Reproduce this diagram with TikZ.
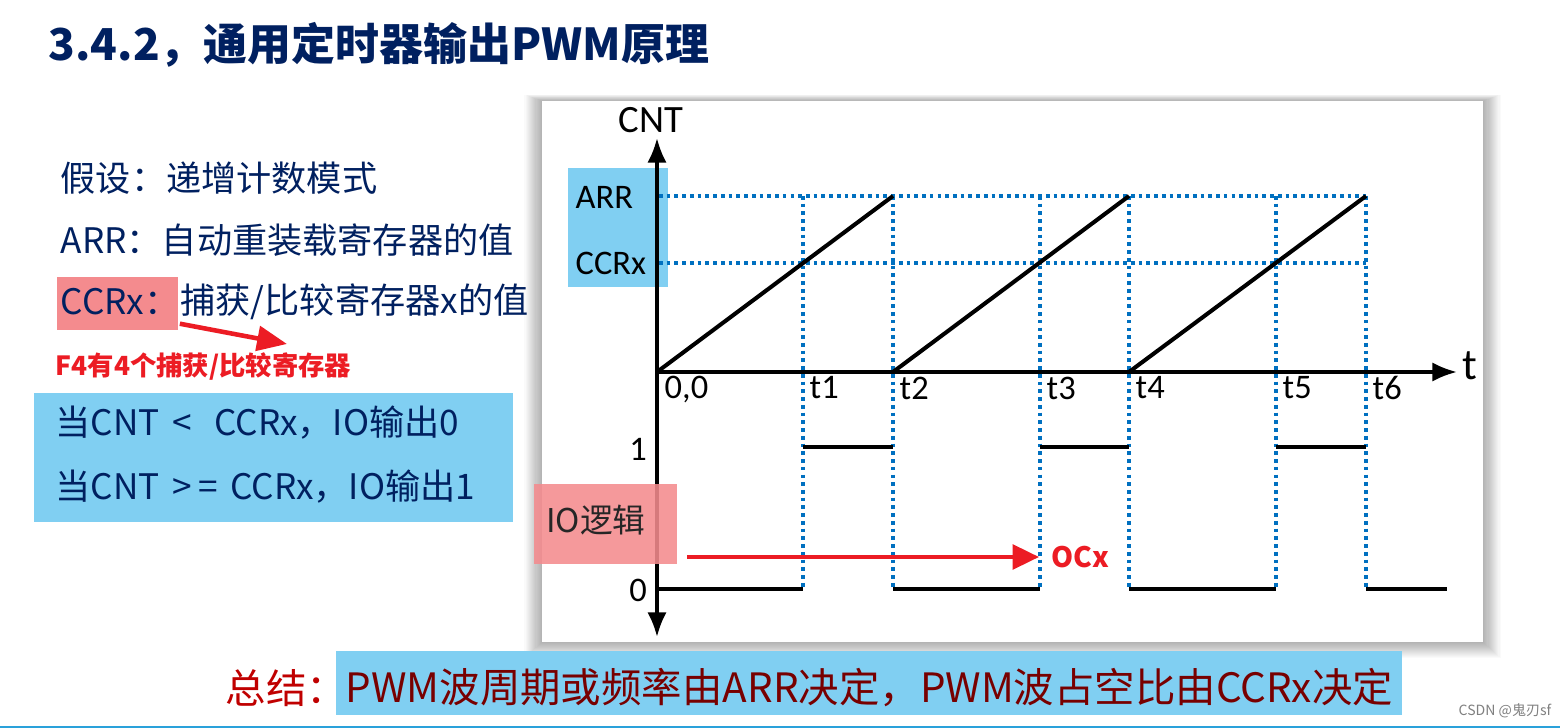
\documentclass[tikz,border=0pt]{standalone}
\usepackage{fontspec}
\setmainfont{Noto Sans CJK SC}
\newfontfamily\chartfont{Carlito}
\usetikzlibrary{arrows.meta,positioning,calc}
\definecolor{navy}{HTML}{002060}
\definecolor{skyblue}{HTML}{80CFF2}
\definecolor{rosepink}{HTML}{F48B8E}
\definecolor{alertred}{HTML}{EC1C24}
\definecolor{dotblue}{HTML}{0070C0}
\definecolor{darkred}{HTML}{C00000}
\definecolor{maroon}{HTML}{780000}
\definecolor{edgeblue}{HTML}{2AA1DA}
\tikzset{
 txt/.style={anchor=west,inner sep=0pt,text=navy,font=\fontsize{10}{12}\selectfont},
 lab/.style={inner sep=0pt,font=\chartfont\fontsize{9.8}{11}\selectfont},
 guide/.style={dotblue,line width=1.05pt,dash pattern=on 1.05pt off 1.15pt},
 wave/.style={line width=1.15pt},
 axis/.style={line width=1pt},
 redarrow/.style={alertred,line width=1.1pt,-{Triangle[length=7pt,width=6.5pt]}}
}
\begin{document}
\begin{tikzpicture}[x=0.01cm,y=-0.01cm,>=Latex]
 \useasboundingbox (0,0) rectangle (1560,728);
 \fill[white] (0,0) rectangle (1560,728);
 \draw[edgeblue,line width=0.5pt] (0,727) -- (1560,727);
 \node[anchor=west,inner sep=0pt,text=navy,font=\bfseries\fontsize{12.5}{14}\selectfont] (title) at (48,45) {3.4.2，通用定时器输出PWM原理};
 % left column
 \node[txt] (hyp) at (60,178) {假设：递增计数模式};
 \node[txt] (arrdef) at (60,240) {ARR：自动重装载寄存器的值};
 \fill[rosepink] (57,277) rectangle (178,330);
 \node[txt] (ccrlab) at (60,302) {CCRx：};
 \node[txt,right=0pt of ccrlab] (ccrdef) {捕获/比较寄存器x的值};
 \node[anchor=west,inner sep=0pt,text=alertred,font=\bfseries\fontsize{7.5}{9}\selectfont] (f4) at (55,367) {F4有4个捕获/比较寄存器};
 \coordinate (f4tip) at (287,344);
 \draw[redarrow,line width=1.3pt,-{Triangle[length=8.5pt,width=7pt]}] ($(ccrdef.south west)+(0,3)$) -- (f4tip);
 \fill[skyblue] (34,393) rectangle (513,522);
 \node[txt] (cond0) at (55,423) {当CNT\hspace{3.5pt}<\hspace{6.5pt}CCRx，IO输出0};
 \node[txt] (cond1) at (55,487) {当CNT\hspace{3.5pt}>\hspace{2pt}=\hspace{3.5pt}CCRx，IO输出1};
 % chart panel
 \foreach \s in {1,...,16}
  \fill[black,opacity=0.018] (542-1.1*\s,101-0.4*\s) rectangle (1483+1.1*\s,642+1*\s);
 \fill[white] (542,101) rectangle (1483,642);
 \fill[skyblue] (568,168) rectangle (668,287);
 \node[lab,anchor=west] (arrlab) at (575,197) {ARR};
 \node[lab,anchor=west] (ccrxlab) at (575,263) {CCRx};
 \node[lab,font=\chartfont\fontsize{11}{12}\selectfont] (cnt) at (651,120) {CNT};
 \coordinate (o) at (657,372);
 \draw[guide] (659,196) -- (1366,196);
 \draw[guide] (659,263) -- (1366,263);
 \foreach \x in {803,893,1040,1129,1276,1366}
  \draw[guide] (\x,196) -- (\x,589);
 \draw[axis,{Latex[length=7pt,width=5.5pt]}-{Latex[length=7pt,width=5.5pt]}] (657,138) -- (657,637);
 \draw[axis,-{Latex[length=7pt,width=5.5pt]}] (o) -- (1457,372);
 \node[inner sep=0pt,font=\chartfont\fontsize{12.5}{14}\selectfont] (taxis) at (1470,366) {t};
 \foreach \a/\b in {657/893,893/1129,1129/1366}
  \draw[wave] (\a,372) -- (\b,196);
 \node[lab,anchor=west] (orig) at (664,390) {0,0};
 \foreach \x/\n in {803/1,893/2,1040/3,1129/4,1276/5,1366/6}
  \node[lab,anchor=west] (t\n) at (\x+6,388) {t\n};
 \foreach \a/\b in {803/893,1040/1129,1276/1366}
  \draw[wave] (\a,447) -- (\b,447);
 \foreach \a/\b in {657/803,893/1040,1129/1276,1366/1447}
  \draw[wave] (\a,589) -- (\b,589);
 \node[lab] (one) at (638,449) {1};
 \node[lab] (zero) at (638,590) {0};
 \fill[rosepink,opacity=0.88] (534,484) rectangle (677,564);
 \node[inner sep=0pt,text=black!85,font=\fontsize{9.3}{11}\selectfont] (io) at (596,520) {IO逻辑};
 \node[anchor=west,inner sep=0pt,text=alertred,font=\bfseries\fontsize{8}{9}\selectfont] (ocx) at (1051,557) {OCx};
 \coordinate (iostart) at (687,557);
 \draw[redarrow,-{Triangle[length=7.5pt,width=7pt]}] (iostart) -- ($(ocx.west)+(-12,0)$);
 % summary
 \node[anchor=west,inner sep=0pt,text=darkred,font=\fontsize{11.5}{14}\selectfont] (sumlab) at (225,688) {总结：};
 \fill[skyblue] (336,651) rectangle (1402,715);
 \node[anchor=west,inner sep=0pt,text=maroon,font=\fontsize{11.5}{14}\selectfont] (sumtxt) at (345,688) {PWM波周期或频率由ARR决定，PWM波占空比由CCRx决定};
 \node[anchor=east,inner sep=0pt,text=gray,font=\fontsize{4}{5}\selectfont] (mark) at (1552,711) {CSDN @鬼刃sf};
\end{tikzpicture}
\end{document}
